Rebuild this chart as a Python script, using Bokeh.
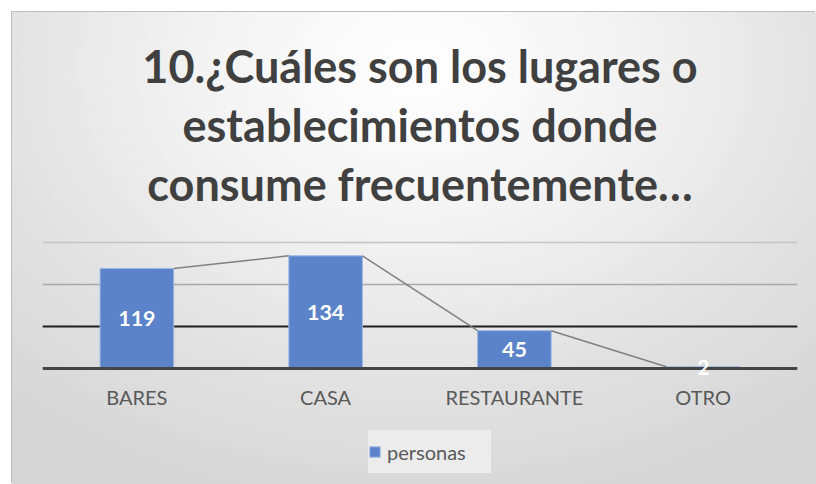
from bokeh.plotting import figure
from bokeh.models import ColumnDataSource, Range1d, FactorRange, Legend, LegendItem, Title
from bokeh.embed import file_html
from bokeh.resources import INLINE
from bokeh.core.properties import value

categories = ["BARES", "CASA", "RESTAURANTE", "OTRO"]
personas = [119, 134, 45, 2]
grid_values = [50, 100, 150]
grid_colors = ["#1e1e1e", "#a8a8a8", "#c4c4c4"]
title_lines = ["10.¿Cuáles son los lugares o", "establecimientos donde", "consume frecuentemente…"]

BAR_W = 0.39
FONT = "Lato"

p = figure(x_range=FactorRange(*categories), y_range=Range1d(-137.9, 185.5),
           width=804, height=472, frame_width=755, frame_height=272,
           output_backend="svg", toolbar_location=None,
           min_border_left=30, min_border_right=19, min_border_top=200, min_border_bottom=0)

p.styles = {
    "margin-left": "12px", "margin-top": "12px",
    "box-shadow": "-1px -1px 0 #bdbdbd",
    "background": "radial-gradient(ellipse 75% 95% at 50% 12%, #ffffff 0%, #f3f3f3 35%, #e2e2e2 70%, #d6d6d6 100%)",
}
p.background_fill_color = None
p.border_fill_color = None
p.outline_line_color = None
p.title.visible = False

for line in reversed(title_lines):
    p.add_layout(Title(text=line, align="center", text_font=FONT, text_font_style="bold",
                       text_font_size="45px", text_color="#404040", standoff=3), "above")

p.xgrid.visible = False
p.ygrid.visible = False
p.hspan(y=grid_values, line_color=grid_colors, line_width=[2, 1.5, 1.5])

src = ColumnDataSource(dict(cat=categories, val=personas,
                            mid=[v / 2 for v in personas],
                            lab=[str(v) for v in personas]))
bars = p.vbar(x="cat", top="val", width=BAR_W, source=src,
              fill_color="#5b83c9", line_color="#9db8e4", line_width=1)

x0 = [(c, BAR_W / 2) for c in categories[:-1]]
x1 = [(c, -BAR_W / 2) for c in categories[1:]]
p.segment(x0=x0, y0=personas[:-1], x1=x1, y1=personas[1:], line_color="#808080", line_width=1.5)

p.text(x="cat", y="mid", text="lab", source=src, text_align="center", text_baseline="middle",
       text_color="white", text_font=value(FONT), text_font_style="bold", text_font_size="21.5px",
       level="overlay")

p.yaxis.visible = False
ax = p.xaxis[0]
ax.fixed_location = 0
ax.axis_line_color = "#444444"
ax.axis_line_width = 3
ax.major_tick_line_color = None
ax.minor_tick_line_color = None
ax.major_label_text_font = FONT
ax.major_label_text_font_size = "20px"
ax.major_label_text_color = "#595959"
ax.major_label_standoff = 10

legend = Legend(items=[LegendItem(label="personas", renderers=[bars])],
                location=(326, 11), orientation="horizontal",
                label_text_font=FONT, label_text_font_size="20px", label_text_color="#595959",
                background_fill_color="#ececec", background_fill_alpha=1,
                border_line_color=None, glyph_width=13, glyph_height=13,
                padding=0, margin=0, label_width=104, label_height=43, label_standoff=6)
p.add_layout(legend, "center")

open("out.html", "w").write(file_html(p, INLINE))
